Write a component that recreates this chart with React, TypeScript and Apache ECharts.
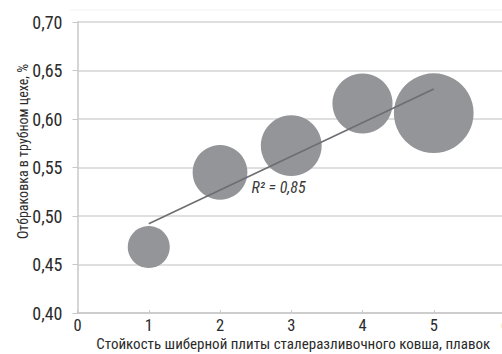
import React, { useEffect, useRef } from "react";
import * as echarts from "echarts";

// Slide-gate plate life (heats) vs. rejection rate in the pipe shop
const plateLife = [1, 2, 3, 4, 5];
const rejectPct = [0.468, 0.545, 0.5725, 0.616, 0.606];
// Relative bubble weights (area-proportional)
const bubbleWeight = [1.0, 1.7, 2.1, 2.05, 3.6];
const yTicks = [0.4, 0.45, 0.5, 0.55, 0.6, 0.65, 0.7];
const r2Label = "R² = 0,85";

const FONT = "'Roboto Condensed', 'Liberation Sans Narrow', sans-serif";

function linearFit(xs: number[], ys: number[]) {
  const n = xs.length;
  const mx = xs.reduce((a, b) => a + b, 0) / n;
  const my = ys.reduce((a, b) => a + b, 0) / n;
  let num = 0;
  let den = 0;
  for (let i = 0; i < n; i++) {
    num += (xs[i] - mx) * (ys[i] - my);
    den += (xs[i] - mx) ** 2;
  }
  const k = num / den;
  return (x: number) => my + k * (x - mx);
}

export default function App() {
  const ref = useRef<HTMLDivElement>(null);

  useEffect(() => {
    if (!ref.current) return;
    const chart = echarts.init(ref.current, null, { renderer: "svg" });
    const fit = linearFit(plateLife, rejectPct);
    const x0 = plateLife[0];
    const x1 = plateLife[plateLife.length - 1];

    chart.setOption({
      animation: false,
      backgroundColor: "#ffffff",
      grid: {
        left: 77.5,
        width: 427.5,
        top: 22,
        height: 291,
        containLabel: false,
        outerBoundsMode: "none",
      },
      graphic: [
        {
          type: "line",
          shape: { x1: 70, y1: 10, x2: 502, y2: 10 },
          style: { stroke: "#f2f2f2", lineWidth: 1 },
          silent: true,
        },
      ],
      xAxis: {
        type: "value",
        min: 0,
        max: 6,
        interval: 1,
        name: "Стойкость шиберной плиты сталеразливочного ковша, плавок",
        nameLocation: "middle",
        nameGap: 23,
        nameMoveOverlap: false,
        nameTextStyle: {
          fontFamily: FONT,
          fontSize: 15,
          color: "#2b2b2b",
          verticalAlign: "top",
          padding: [0, 0, 0, 4],
        },
        axisLine: { show: true, lineStyle: { color: "#c8c8c8", width: 1.5 } },
        axisTick: { show: true, inside: true, length: 3, lineStyle: { color: "#c8c8c8" } },
        axisLabel: { fontFamily: FONT, fontSize: 16.5, color: "#2b2b2b", margin: 4 },
        splitLine: { show: false },
      },
      yAxis: {
        type: "value",
        min: yTicks[0],
        max: yTicks[yTicks.length - 1],
        interval: 0.05,
        name: "Отбраковка в трубном цехе, %",
        nameLocation: "middle",
        nameGap: 48,
        nameMoveOverlap: false,
        nameTextStyle: { fontFamily: FONT, fontSize: 14, color: "#2b2b2b", padding: [0, 0, 0, 32] },
        axisLine: { show: true, lineStyle: { color: "#c8c8c8", width: 1.5 } },
        axisTick: { show: true, inside: false, length: 5, lineStyle: { color: "#c8c8c8" } },
        axisLabel: {
          fontFamily: FONT,
          fontSize: 18,
          color: "#2b2b2b",
          margin: 15,
          formatter: (v: number) => v.toFixed(2).replace(".", ","),
        },
        splitLine: { show: true, lineStyle: { color: "#d4d4d4", width: 1.5 } },
      },
      series: [
        {
          type: "scatter",
          data: plateLife.map((x, i) => [x, rejectPct[i], bubbleWeight[i]]),
          symbolSize: (d: number[]) => 42 * Math.sqrt(d[2]),
          itemStyle: { color: "#939598", opacity: 1 },
          z: 2,
        },
        {
          type: "line",
          data: [
            [x0, fit(x0)],
            [x1, fit(x1)],
          ],
          showSymbol: false,
          symbol: "none",
          lineStyle: { color: "#6d6e71", width: 1.6 },
          z: 3,
          markPoint: {
            symbol: "rect",
            symbolSize: 1,
            itemStyle: { color: "transparent" },
            label: {
              show: true,
              formatter: r2Label,
              fontFamily: FONT,
              fontSize: 16,
              fontStyle: "italic",
              color: "#3a3a3a",
              position: "right",
              distance: 0,
            },
            data: [{ coord: [2.435, 0.529] }],
          },
        },
      ],
    });

    return () => chart.dispose();
  }, []);

  return (
    <div
      ref={ref}
      style={{ position: "absolute", left: 0, top: 0, width: 502, height: 354, overflow: "hidden" }}
    />
  );
}
